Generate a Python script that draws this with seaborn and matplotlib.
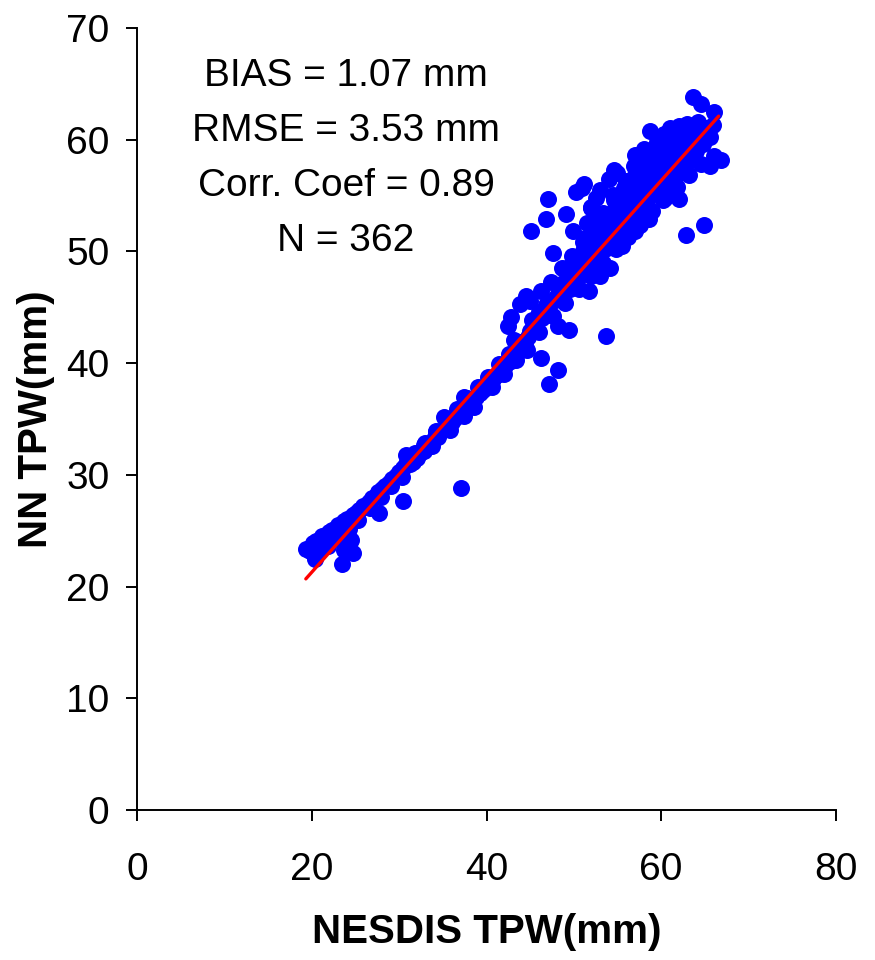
import pandas as pd
import matplotlib
matplotlib.use("Agg")
import matplotlib.pyplot as plt
import seaborn as sns

# NESDIS TPW (x) vs NN TPW (y)
lower_x = [19.3, 19.8, 20.1, 20.5, 20.9, 21.2, 21.6, 21.9, 22.3, 22.6, 23.0, 23.3, 23.7, 24.0, 24.4, 24.7,
           25.1, 25.4, 25.8, 26.2, 26.5, 26.9, 27.3, 27.6, 28.0, 28.4, 28.8, 29.2, 29.6, 30.0, 30.4, 30.8,
           20.6, 21.8, 22.8, 24.2, 25.3, 26.6, 27.9, 29.1, 30.3,
           20.4, 23.5, 23.7, 24.3, 24.7, 24.5, 27.7, 30.4, 37.1, 30.8]
lower_y = [23.4, 23.2, 23.9, 24.1, 23.8, 24.5, 24.3, 24.9, 25.1, 24.8, 25.5, 25.3, 25.9, 26.1, 25.7, 26.4,
           26.6, 26.9, 27.2, 27.1, 27.6, 27.9, 28.1, 28.5, 28.7, 29.0, 29.3, 29.6, 29.9, 30.3, 30.6, 31.0,
           22.9, 23.6, 24.4, 25.2, 26.0, 27.0, 28.0, 29.0, 29.8,
           22.5, 22.0, 23.3, 23.8, 23.0, 24.2, 26.6, 27.7, 28.8, 31.8]

mid_x = [31.2, 31.6, 32.0, 32.4, 32.8, 33.2, 33.6, 34.0, 34.4, 34.8, 35.2, 35.6, 36.0, 36.4, 36.8, 37.2,
         37.6, 38.0, 38.4, 38.8, 39.2, 39.6, 40.0, 40.4, 40.8, 41.2, 41.6, 42.0, 42.4, 42.8, 43.2, 43.6,
         44.0, 44.4, 44.8,
         31.8, 33.0, 34.2, 35.4, 36.6, 37.8, 39.0, 40.2, 41.4, 42.6, 43.8, 45.0,
         33.8, 35.8, 37.4, 38.6, 40.6, 42.0, 43.4, 44.6,
         32.8, 34.2, 35.1, 37.4, 42.8, 42.5, 43.2, 46.3, 48.2, 47.2, 49.4, 48.2, 53.7, 44.5, 43.8]
mid_y = [31.0, 31.2, 31.5, 32.0, 32.1, 32.5, 32.9, 33.2, 33.4, 33.9, 34.1, 34.5, 34.7, 35.1, 35.4, 35.7,
         36.0, 36.4, 36.6, 37.0, 37.3, 37.6, 37.9, 38.3, 38.6, 38.9, 39.4, 39.6, 40.0, 40.2, 40.7, 41.0,
         41.5, 41.8, 42.3,
         32.0, 32.9, 33.9, 34.9, 35.9, 36.9, 37.9, 38.8, 39.9, 40.8, 41.9, 42.9,
         32.6, 34.0, 35.3, 36.1, 37.9, 39.0, 40.3, 41.2,
         32.7, 33.8, 35.2, 37.0, 44.1, 43.3, 42.1, 40.5, 39.4, 38.1, 43.0, 43.3, 42.4, 46.0, 45.3]

upper_x = [45.2, 45.6, 46.0, 46.4, 46.8, 47.2, 47.6, 48.0, 48.4, 48.8, 49.2, 49.6, 50.0, 50.4, 50.8, 51.2,
           51.6, 52.0, 52.4, 52.8, 53.2, 53.6, 54.0, 54.4, 54.8, 55.2, 55.6, 56.0, 56.4, 56.8, 57.2, 57.6,
           58.0, 58.4, 58.8, 59.2, 59.6, 60.0, 60.4, 60.8, 61.2, 61.6, 62.0, 62.4, 62.8, 63.2, 63.6, 64.0,
           64.4, 64.8, 65.2, 65.6, 66.0,
           45.0, 46.2, 47.4, 48.6, 49.8, 51.0, 52.2, 53.4, 54.6, 55.8, 57.0, 58.2, 59.4, 60.6, 61.8, 63.0, 64.2,
           46.0, 47.6, 49.0, 50.6, 52.0, 53.4, 54.8, 56.2, 57.6, 59.0, 60.4, 61.8, 63.2, 64.6,
           51.5, 52.5, 53.0, 54.0, 55.0, 54.5, 56.0, 57.0, 58.0, 58.5, 59.5, 60.3, 61.0, 61.5, 62.3, 60.0,
           56.5, 57.5, 59.0, 60.8, 62.0, 63.5, 64.2, 55.5, 57.0, 58.5, 60.2, 61.3, 54.2, 53.0, 51.8, 56.3,
           60.5, 62.8]
upper_y = [43.9, 43.4, 44.6, 44.0, 45.2, 44.7, 45.6, 45.9, 46.4, 45.8, 47.1, 46.6, 47.8, 47.0, 48.5, 48.0,
           49.2, 48.6, 50.0, 49.1, 50.7, 50.2, 51.5, 51.0, 52.3, 51.6, 53.0, 52.4, 53.6, 52.9, 54.4, 53.7,
           55.1, 54.5, 55.8, 55.2, 56.6, 56.0, 57.3, 56.4, 58.0, 57.2, 58.6, 57.8, 59.3, 58.4, 59.8, 59.0,
           60.5, 59.6, 61.0, 60.2, 61.3,
           45.6, 46.5, 47.3, 48.5, 49.6, 50.8, 52.0, 53.4, 54.6, 55.7, 56.8, 57.9, 58.8, 59.9, 60.8, 61.4, 61.6,
           42.8, 44.2, 45.4, 46.6, 47.8, 49.0, 50.2, 51.3, 52.4, 53.6, 54.8, 55.8, 56.8, 57.8,
           52.5, 54.8, 55.5, 56.5, 57.0, 53.5, 56.3, 58.6, 59.2, 57.5, 59.8, 60.5, 61.0, 59.5, 60.1, 58.0,
           54.0, 55.6, 56.0, 57.8, 57.0, 58.2, 59.4, 50.5, 51.8, 53.2, 54.6, 55.5, 48.5, 47.8, 46.5, 52.5,
           56.5, 58.8]

# extra points in the dense upper cloud
cloud_x = [50.5, 51.3, 52.1, 52.9, 53.7, 54.5, 55.3, 56.1, 56.9, 57.7, 58.5, 59.3, 60.1, 60.9, 61.7, 62.5,
           51.0, 52.6, 54.2, 55.8, 57.4, 59.0, 60.6, 62.2, 63.4, 64.0, 49.5, 48.8]
cloud_y = [49.0, 51.2, 50.3, 52.2, 52.8, 55.0, 54.2, 55.0, 57.6, 57.0, 56.2, 58.0, 59.0, 59.3, 58.2, 59.0,
           50.0, 51.0, 52.0, 53.3, 54.5, 57.0, 57.2, 58.0, 60.0, 60.6, 48.6, 47.2]

outlier_x = [45.1, 47.1, 46.8, 49.1, 49.9, 47.6, 50.9, 50.3, 52.0, 52.8, 63.7, 64.6, 66.1, 58.7, 62.0,
             63.1, 66.1, 66.9, 65.6, 64.9, 62.9, 51.2, 54.6, 58.6, 62.0, 52.0]
outlier_y = [51.8, 54.7, 52.9, 53.3, 51.8, 49.9, 55.7, 55.3, 53.9, 53.0, 63.8, 63.2, 62.5, 60.8, 61.2,
             60.5, 58.5, 58.2, 57.6, 52.4, 51.5, 56.0, 57.3, 52.9, 54.7, 54.0]

# regression line end points
fit_x = [19.3, 66.6]
fit_y = [20.7, 62.1]

stats_text = ["BIAS = 1.07 mm", "RMSE = 3.53 mm", "Corr. Coef = 0.89", "N = 362"]

df = pd.DataFrame({
    "nesdis": lower_x + mid_x + upper_x + cloud_x + outlier_x,
    "nn": lower_y + mid_y + upper_y + cloud_y + outlier_y,
})
fit = pd.DataFrame({"nesdis": fit_x, "nn": fit_y})

sns.set_style("ticks")
plt.rcParams['font.family'] = ['Liberation Sans', 'DejaVu Sans']
plt.rcParams['text.color'] = 'black'
plt.rcParams['axes.labelcolor'] = 'black'

fig = plt.figure(figsize=(8.75, 9.6), dpi=100)
ax = fig.add_axes([0.157, 0.156, 0.798, 0.815])

sns.scatterplot(data=df, x="nesdis", y="nn", ax=ax, color="#0000FF", s=150,
                linewidth=0, marker="o", zorder=2)
sns.lineplot(data=fit, x="nesdis", y="nn", ax=ax, color="#FF0000", linewidth=2.4, zorder=3)

ax.set_xlim(0, 80)
ax.set_ylim(0, 70)
ax.set_xticks([0, 20, 40, 60, 80])
ax.set_yticks(range(0, 80, 10))
sns.despine(ax=ax)
for side in ["left", "bottom"]:
    ax.spines[side].set_linewidth(1.4)
    ax.spines[side].set_color("black")
ax.tick_params(axis="both", direction="out", length=8, width=1.4, colors="black",
               labelsize=28)
ax.tick_params(axis="x", pad=22)
ax.tick_params(axis="y", pad=12)

ax.set_xlabel("NESDIS TPW(mm)", fontsize=29, fontweight="bold", labelpad=18)
ax.set_ylabel("NN TPW(mm)", fontsize=29, fontweight="bold", labelpad=8)

ax.text(23.9, 67.3, "\n".join(stats_text), ha="center", va="top", fontsize=28,
        linespacing=1.68)

fig.savefig("out.png", dpi=100)
